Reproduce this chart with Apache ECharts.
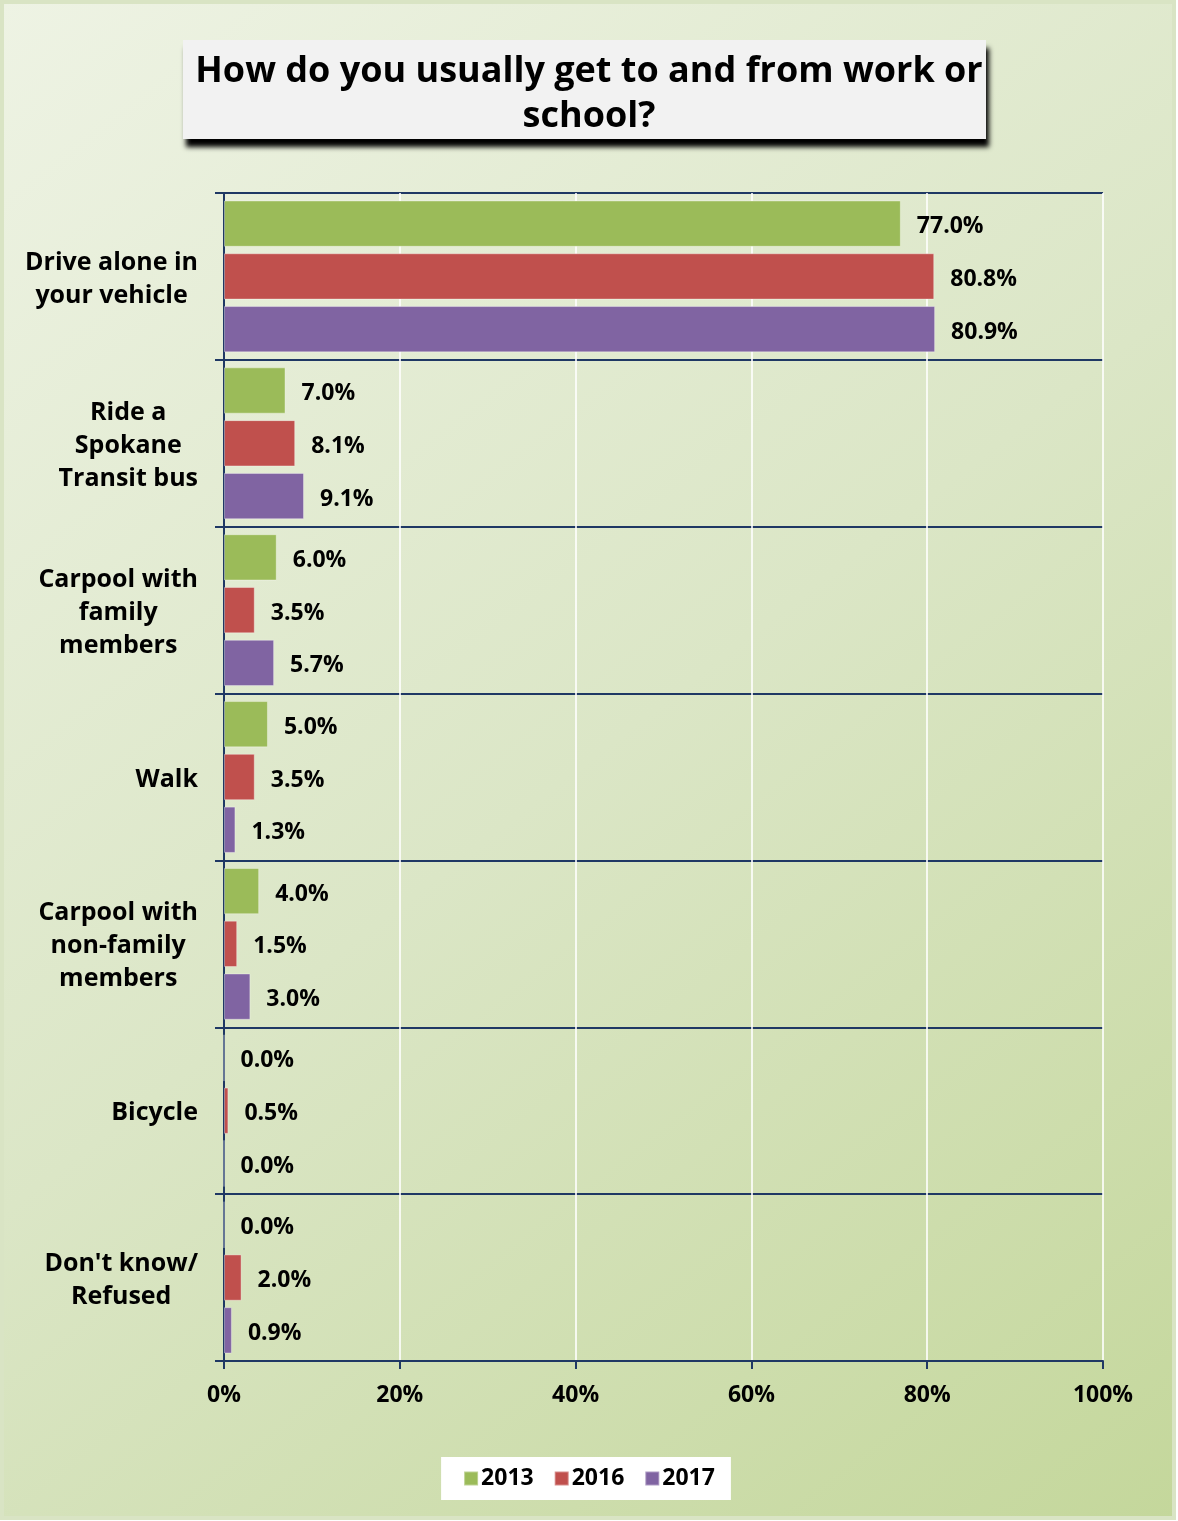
<!DOCTYPE html>
<html>
<head>
<meta charset="utf-8">
<script src="https://cdn.jsdelivr.net/npm/echarts@6/dist/echarts.min.js"></script>
<style>
  html, body { margin: 0; padding: 0; background: #fff; }
  #main { width: 1178px; height: 1521px; }
</style>
</head>
<body>
<div id="main"></div>
<script>
var categories = ['Drive alone in\nyour vehicle', 'Ride a\nSpokane\nTransit bus', 'Carpool with\nfamily\nmembers',
  'Walk', 'Carpool with\nnon-family\nmembers', 'Bicycle', "Don't know/\nRefused"]
var years = ['2013', '2016', '2017']
var values2013 = [77.0, 7.0, 6.0, 5.0, 4.0, 0.0, 0.0]
var values2016 = [80.8, 8.1, 3.5, 3.5, 1.5, 0.5, 2.0]
var values2017 = [80.9, 9.1, 5.7, 1.3, 3.0, 0.0, 0.9]
var colors = ['#9bbb59', '#c0504d', '#8064a2']

var font = '"Open Sans", Lato, sans-serif'
var chart = echarts.init(document.getElementById('main'), null, { renderer: 'canvas' })

function makeSeries(name, data, i) {
  return {
    name: name,
    type: 'bar',
    data: data,
    barGap: '14%',
    barCategoryGap: '9%',
    itemStyle: { color: colors[i], borderColor: 'rgba(255,255,255,0.35)', borderWidth: 1 },
    label: {
      show: true,
      position: 'right',
      distance: 16,
      offset: [0, 3],
      color: '#000',
      fontFamily: font,
      fontWeight: 'bold',
      fontSize: 23,
      formatter: function (p) { return p.value.toFixed(1) + '%' }
    }
  }
}

var option = {
  animation: false,
  color: colors,
  graphic: [
    {
      type: 'rect', z: -10, silent: true,
      shape: { x: 2, y: 2, width: 1172, height: 1516 },
      style: {
        fill: new echarts.graphic.LinearGradient(0, 0, 1, 1, [
          { offset: 0, color: '#eef3e4' },
          { offset: 0.5, color: '#dbe6c6' },
          { offset: 1, color: '#c4d79b' }
        ]),
        stroke: '#d9e4c4', lineWidth: 4
      }
    },
    {
      type: 'rect', z: 5, silent: true,
      shape: { x: 183, y: 40, width: 803, height: 99 },
      style: {
        fill: '#f2f2f2',
        shadowColor: 'rgba(0,0,0,1)', shadowBlur: 5, shadowOffsetX: 3, shadowOffsetY: 8
      }
    }
  ],
  title: {
    text: 'How do you usually get to and from work or\nschool?',
    left: 'center',
    top: 44,
    z: 10,
    textStyle: {
      fontFamily: font, fontWeight: 'bold', fontSize: 36, color: '#000', lineHeight: 45
    }
  },
  legend: {
    data: years,
    bottom: 21,
    left: 'center',
    backgroundColor: '#fff',
    padding: [10, 16, 10, 22],
    itemGap: 20,
    itemWidth: 14,
    itemHeight: 14,
    icon: 'rect',
    textStyle: { fontFamily: font, fontWeight: 'bold', fontSize: 23, color: '#000', padding: [0, 0, 0, -2] }
  },
  grid: { left: 224, right: 75, top: 193, bottom: 160, containLabel: false },
  xAxis: {
    type: 'value',
    min: 0,
    max: 100,
    interval: 20,
    axisLine: { show: true, lineStyle: { color: '#1f3864', width: 2 } },
    axisTick: { show: true, length: 8, lineStyle: { color: '#1f3864', width: 2 } },
    axisLabel: {
      formatter: '{value}%', margin: 23, color: '#000',
      fontFamily: font, fontWeight: 'bold', fontSize: 23
    },
    splitLine: { show: true, lineStyle: { color: 'rgba(255,255,255,0.8)', width: 2 } }
  },
  yAxis: {
    type: 'category',
    data: categories,
    inverse: true,
    axisLine: { show: true, lineStyle: { color: '#1f3864', width: 2 } },
    axisTick: { show: true, length: 9, lineStyle: { color: '#1f3864', width: 2 } },
    splitLine: { show: true, lineStyle: { color: '#1f3864', width: 2 } },
    axisLabel: {
      margin: 26, align: 'right', padding: [5, 0, 0, 0],
      formatter: function (v) {
        return v.split('\n').map(function (s) { return '{c|' + s + '}' }).join('\n')
      },
      rich: {
        c: {
          align: 'center', color: '#000', lineHeight: 33,
          fontFamily: font, fontWeight: 'bold', fontSize: 25
        }
      }
    }
  },
  series: [
    makeSeries(years[0], values2013, 0),
    makeSeries(years[1], values2016, 1),
    makeSeries(years[2], values2017, 2)
  ]
}
chart.setOption(option)
</script>
</body>
</html>
